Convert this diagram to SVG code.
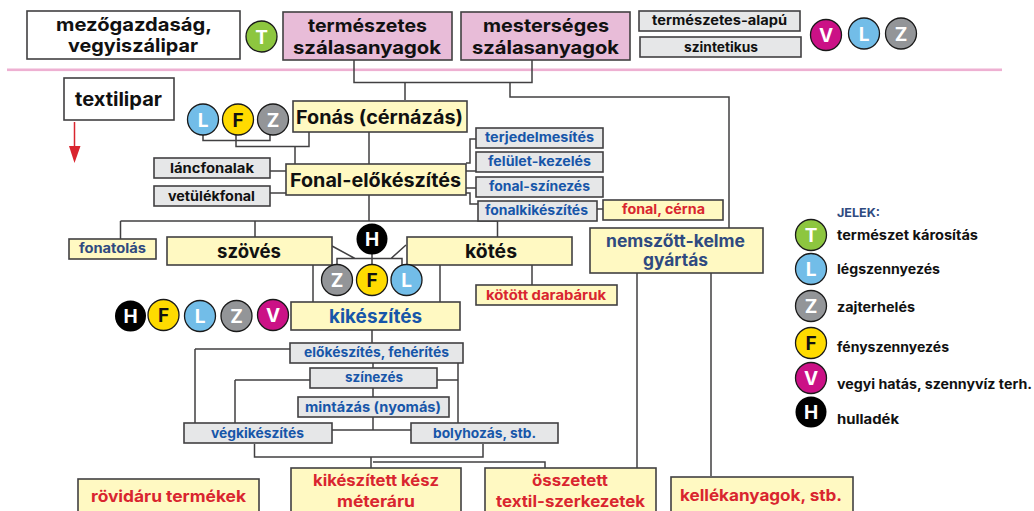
<svg xmlns="http://www.w3.org/2000/svg" width="1034" height="511" viewBox="0 0 1034 511">
<style>
text{font-family:Inter,"Open Sans","Noto Sans",sans-serif;font-weight:700;text-anchor:middle}
.b{stroke:#414042;stroke-width:1.6}
.w{fill:#fff}.p{fill:#e8bcd8}.y{fill:#fff9c2}.g{fill:#e6e7e8}
.c{fill:none;stroke:#414042;stroke-width:1.5}
.k{fill:#111}.bl{fill:#1756a9}.r{fill:#d9252f}.n{fill:#2f4a80}
.o{stroke:#1a1a1a;stroke-width:1.3}
.l{text-anchor:start;font-size:13px;fill:#111}
</style>
<defs>
<g id="T"><circle r="15.5" class="o" fill="#8dc63f"/><text y="7" font-size="19" fill="#fff">T</text></g>
<g id="L"><circle r="15.5" class="o" fill="#72bde8"/><text y="7" font-size="19" fill="#fff">L</text></g>
<g id="Z"><circle r="15.5" class="o" fill="#939598"/><text y="7" font-size="19" fill="#fff">Z</text></g>
<g id="F"><circle r="15.5" class="o" fill="#ffdb00"/><text y="7" font-size="19" fill="#111">F</text></g>
<g id="V"><circle r="15.5" class="o" fill="#cb1186"/><text y="7" font-size="19" fill="#fff">V</text></g>
<g id="H"><circle r="15.5" fill="#000"/><text y="7" font-size="19" fill="#fff">H</text></g>
</defs>
<rect x="7" y="68.500" width="995" height="2.600" fill="#eeb0d2"/>
<g id="connectors">
<path class="c" d="M354 60V82.500H532V60M405 82.500V100M309 132V146.500H236V135M295 146.500V164M203 135V140.500H270V135M369 132V164M270 171H286M270 193H286M466 163H470V139H476M466 171H476M466 188H476M466 193H470V204H478M597 209H603M369 195V221M120.500 221H497.500V237M120.500 221V239M255 221V237M332 246L355 258.500M406 245L391 258.500M337 265V258.500H402V265M372 252V265M313 265V302M440 265V302M532 265V285M510 82.500V97H729V228M372 330V343M195 349H291M195 349V423M235 380H310M235 380V423M458 363V423M437 380H458M373 363V368M373 388V397M373 417V430M332 430H411M254.500 444V457H483V444M371 457V468M373 462H545V468M637 273V468M711 273V476"/>
</g>
<g id="n-mezo"><rect class="b w" x="27" y="11" width="213" height="48"/><text class="k" font-size="18.500" x="134" y="31" textLength="156" lengthAdjust="spacingAndGlyphs">mezőgazdaság,</text><text class="k" font-size="18.500" x="133" y="52" textLength="130" lengthAdjust="spacingAndGlyphs">vegyiszálipar</text></g>
<g id="n-term"><rect class="b p" x="283" y="12" width="169" height="48"/><text class="k" font-size="18.500" x="367.500" y="32" textLength="119" lengthAdjust="spacingAndGlyphs">természetes</text><text class="k" font-size="18.500" x="367" y="54" textLength="148" lengthAdjust="spacingAndGlyphs">szálasanyagok</text></g>
<g id="n-mest"><rect class="b p" x="461" y="12" width="169" height="48"/><text class="k" font-size="18.500" x="546" y="32" textLength="126" lengthAdjust="spacingAndGlyphs">mesterséges</text><text class="k" font-size="18.500" x="545.500" y="54" textLength="147" lengthAdjust="spacingAndGlyphs">szálasanyagok</text></g>
<g id="n-ta"><rect class="b g" x="639" y="11" width="161" height="20"/><text class="k" font-size="13" x="719.500" y="25" textLength="135" lengthAdjust="spacingAndGlyphs">természetes-alapú</text></g>
<g id="n-sz"><rect class="b g" x="640" y="37" width="161" height="20"/><text class="k" font-size="13" x="721" y="52" textLength="74" lengthAdjust="spacingAndGlyphs">szintetikus</text></g>
<use href="#T" x="261.500" y="36.500"/>
<use href="#V" x="826" y="35"/>
<use href="#L" x="864" y="33.500"/>
<use href="#Z" x="901" y="33.500"/>
<g id="n-textil"><rect class="b w" x="64" y="78" width="110" height="42"/><text class="k" font-size="19" x="118.500" y="106" textLength="87" lengthAdjust="spacingAndGlyphs">textilipar</text></g>
<path d="M74.500 122V148" stroke="#d9252f" stroke-width="1.500"/><path d="M69 146H80.500L74.500 163Z" fill="#d9252f"/>
<use href="#L" x="203" y="119.500"/>
<use href="#F" x="238" y="119.500"/>
<use href="#Z" x="273" y="119.500"/>
<g id="n-fonas"><rect class="b y" x="293" y="101" width="174" height="31"/><text class="k" font-size="19" x="379.500" y="123.500" textLength="167" lengthAdjust="spacingAndGlyphs">Fonás (cérnázás)</text></g>
<g id="n-lanc"><rect class="b g" x="154" y="158" width="116" height="20"/><text class="k" font-size="13" x="212" y="173" textLength="84" lengthAdjust="spacingAndGlyphs">láncfonalak</text></g>
<g id="n-vet"><rect class="b g" x="154" y="186" width="116" height="20"/><text class="k" font-size="13" x="211.500" y="201" textLength="87" lengthAdjust="spacingAndGlyphs">vetülékfonal</text></g>
<g id="n-elo"><rect class="b y" x="286" y="164" width="180" height="31"/><text class="k" font-size="19" x="375.500" y="187" textLength="171" lengthAdjust="spacingAndGlyphs">Fonal-előkészítés</text></g>
<g id="n-t1"><rect class="b g" x="476" y="128" width="127" height="20"/><text class="bl" font-size="13" x="539.500" y="142" textLength="109" lengthAdjust="spacingAndGlyphs">terjedelmesítés</text></g>
<g id="n-t2"><rect class="b g" x="476" y="152" width="127" height="20"/><text class="bl" font-size="13" x="539.500" y="166" textLength="103" lengthAdjust="spacingAndGlyphs">felület-kezelés</text></g>
<g id="n-t3"><rect class="b g" x="476" y="177" width="127" height="20"/><text class="bl" font-size="13" x="539.500" y="191" textLength="101" lengthAdjust="spacingAndGlyphs">fonal-színezés</text></g>
<g id="n-t4"><rect class="b g" x="478" y="201" width="119" height="20"/><text class="bl" font-size="13" x="536.500" y="215" textLength="103" lengthAdjust="spacingAndGlyphs">fonalkikészítés</text></g>
<g id="n-fc"><rect class="b y" x="603" y="200" width="120" height="20"/><text class="r" font-size="13" x="663.500" y="214" textLength="83" lengthAdjust="spacingAndGlyphs">fonal, cérna</text></g>
<g id="n-fonat"><rect class="b y" x="69" y="239" width="87" height="20"/><text class="n" font-size="13" x="112.500" y="253" textLength="67" lengthAdjust="spacingAndGlyphs">fonatolás</text></g>
<g id="n-szov"><rect class="b y" x="167" y="237" width="165" height="28"/><text class="k" font-size="19" x="249" y="258" textLength="64" lengthAdjust="spacingAndGlyphs">szövés</text></g>
<g id="n-kot"><rect class="b y" x="407" y="237" width="165" height="28"/><text class="k" font-size="19" x="491" y="258" textLength="52" lengthAdjust="spacingAndGlyphs">kötés</text></g>
<g id="n-nem"><rect class="b y" x="590" y="228" width="173" height="45"/><text class="n" font-size="17" x="675.500" y="247" textLength="139" lengthAdjust="spacingAndGlyphs">nemszőtt-kelme</text><text class="n" font-size="17" x="675.500" y="266" textLength="65" lengthAdjust="spacingAndGlyphs">gyártás</text></g>
<use href="#H" x="372" y="239"/>
<use href="#Z" x="337" y="280"/>
<use href="#F" x="372" y="280"/>
<use href="#L" x="406.500" y="280"/>
<g id="n-kdb"><rect class="b y" x="476" y="285" width="141" height="20"/><text class="r" font-size="13" x="546" y="300" textLength="120" lengthAdjust="spacingAndGlyphs">kötött darabáruk</text></g>
<use href="#H" x="130.500" y="316"/>
<use href="#F" x="163.500" y="315"/>
<use href="#L" x="200" y="316"/>
<use href="#Z" x="236.500" y="316"/>
<use href="#V" x="273" y="315"/>
<g id="n-kik"><rect class="b y" x="291" y="302" width="169" height="28"/><text class="bl" font-size="19" x="375.500" y="323" textLength="93" lengthAdjust="spacingAndGlyphs">kikészítés</text></g>
<g id="n-feh"><rect class="b g" x="290" y="343" width="173" height="20"/><text class="bl" font-size="13" x="376.500" y="357" textLength="145" lengthAdjust="spacingAndGlyphs">előkészítés, fehérítés</text></g>
<g id="n-szin"><rect class="b g" x="310" y="368" width="127" height="20"/><text class="bl" font-size="13" x="374" y="382" textLength="58" lengthAdjust="spacingAndGlyphs">színezés</text></g>
<g id="n-mint"><rect class="b g" x="298" y="397" width="151" height="20"/><text class="bl" font-size="14" x="373" y="412" textLength="136" lengthAdjust="spacingAndGlyphs">mintázás (nyomás)</text></g>
<g id="n-veg"><rect class="b g" x="184" y="423" width="148" height="20"/><text class="bl" font-size="13" x="257.500" y="438" textLength="93" lengthAdjust="spacingAndGlyphs">végkikészítés</text></g>
<g id="n-boly"><rect class="b g" x="411" y="423" width="147" height="20"/><text class="bl" font-size="13" x="484.500" y="438" textLength="103" lengthAdjust="spacingAndGlyphs">bolyhozás, stb.</text></g>
<g id="n-rov"><rect class="b y" x="78" y="479" width="181" height="40"/><text class="r" font-size="16" x="168.500" y="502" textLength="155" lengthAdjust="spacingAndGlyphs">rövidáru termékek</text></g>
<g id="n-met"><rect class="b y" x="291" y="468" width="170" height="50"/><text class="r" font-size="15.500" x="376" y="486" textLength="126" lengthAdjust="spacingAndGlyphs">kikészített kész</text><text class="r" font-size="15.500" x="376" y="507" textLength="78" lengthAdjust="spacingAndGlyphs">méteráru</text></g>
<g id="n-oss"><rect class="b y" x="485" y="468" width="171" height="50"/><text class="r" font-size="15.500" x="570" y="486" textLength="76" lengthAdjust="spacingAndGlyphs">összetett</text><text class="r" font-size="15.500" x="570.500" y="507" textLength="149" lengthAdjust="spacingAndGlyphs">textil-szerkezetek</text></g>
<g id="n-kell"><rect class="b y" x="671" y="477" width="182" height="40"/><text class="r" font-size="16" x="761" y="501" textLength="162" lengthAdjust="spacingAndGlyphs">kellékanyagok, stb.</text></g>
<g id="legend">
<text class="n" font-size="12" x="837" y="217" style="text-anchor:start" textLength="43" lengthAdjust="spacingAndGlyphs">JELEK:</text>
<use href="#T" x="811" y="235"/><text class="l" x="837" y="240" textLength="141" lengthAdjust="spacingAndGlyphs">természet károsítás</text>
<use href="#L" x="811" y="269"/><text class="l" x="837" y="274" textLength="103" lengthAdjust="spacingAndGlyphs">légszennyezés</text>
<use href="#Z" x="811" y="306"/><text class="l" x="837" y="312" textLength="78" lengthAdjust="spacingAndGlyphs">zajterhelés</text>
<use href="#F" x="811" y="343"/><text class="l" x="837" y="352" textLength="112" lengthAdjust="spacingAndGlyphs">fényszennyezés</text>
<use href="#V" x="811" y="378"/><text class="l" x="837" y="389" textLength="195" lengthAdjust="spacingAndGlyphs">vegyi hatás, szennyvíz terh.</text>
<use href="#H" x="811" y="412"/><text class="l" x="837" y="424" textLength="62" lengthAdjust="spacingAndGlyphs">hulladék</text>
</g>
</svg>
